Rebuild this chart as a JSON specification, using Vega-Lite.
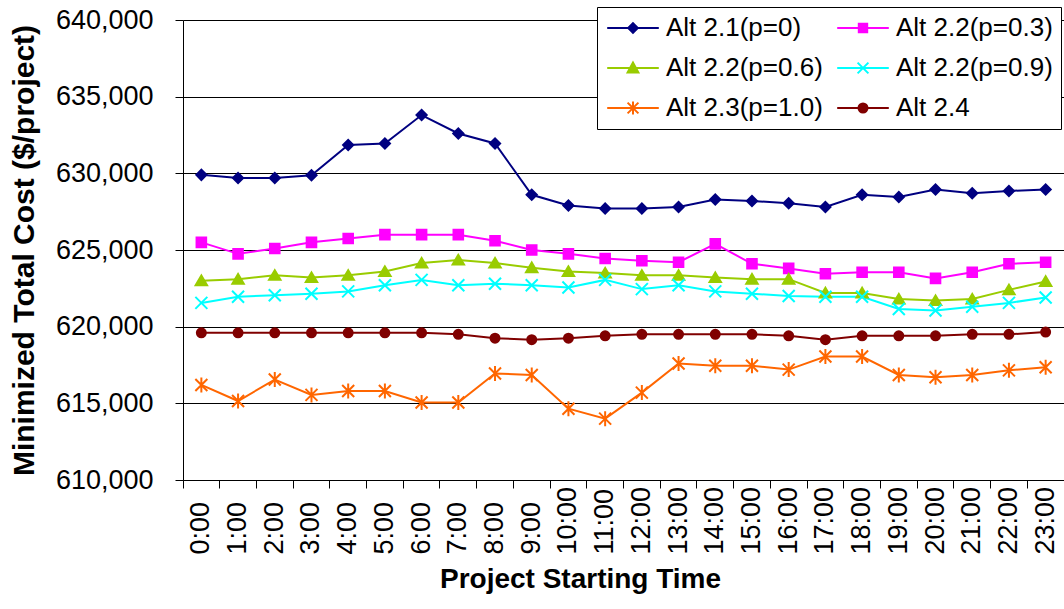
{
  "$schema": "https://vega.github.io/schema/vega-lite/v6.json",
  "width": 881,
  "height": 460,
  "autosize": {"type": "none"},
  "padding": {"left": 183, "top": 20, "right": 0, "bottom": 129},
  "background": "white",
  "config": {"view": {"stroke": null}, "font": "Liberation Sans"},
  "data": {"values": [
    {"hour":"0:00","series":"Alt 2.1(p=0)","cost":629900},
    {"hour":"1:00","series":"Alt 2.1(p=0)","cost":629700},
    {"hour":"2:00","series":"Alt 2.1(p=0)","cost":629700},
    {"hour":"3:00","series":"Alt 2.1(p=0)","cost":629870},
    {"hour":"4:00","series":"Alt 2.1(p=0)","cost":631850},
    {"hour":"5:00","series":"Alt 2.1(p=0)","cost":631950},
    {"hour":"6:00","series":"Alt 2.1(p=0)","cost":633800},
    {"hour":"7:00","series":"Alt 2.1(p=0)","cost":632600},
    {"hour":"8:00","series":"Alt 2.1(p=0)","cost":631950},
    {"hour":"9:00","series":"Alt 2.1(p=0)","cost":628600},
    {"hour":"10:00","series":"Alt 2.1(p=0)","cost":627900},
    {"hour":"11:00","series":"Alt 2.1(p=0)","cost":627700},
    {"hour":"12:00","series":"Alt 2.1(p=0)","cost":627700},
    {"hour":"13:00","series":"Alt 2.1(p=0)","cost":627800},
    {"hour":"14:00","series":"Alt 2.1(p=0)","cost":628300},
    {"hour":"15:00","series":"Alt 2.1(p=0)","cost":628200},
    {"hour":"16:00","series":"Alt 2.1(p=0)","cost":628050},
    {"hour":"17:00","series":"Alt 2.1(p=0)","cost":627800},
    {"hour":"18:00","series":"Alt 2.1(p=0)","cost":628600},
    {"hour":"19:00","series":"Alt 2.1(p=0)","cost":628450},
    {"hour":"20:00","series":"Alt 2.1(p=0)","cost":628950},
    {"hour":"21:00","series":"Alt 2.1(p=0)","cost":628700},
    {"hour":"22:00","series":"Alt 2.1(p=0)","cost":628850},
    {"hour":"23:00","series":"Alt 2.1(p=0)","cost":628950},
    {"hour":"0:00","series":"Alt 2.2(p=0.3)","cost":625500},
    {"hour":"1:00","series":"Alt 2.2(p=0.3)","cost":624750},
    {"hour":"2:00","series":"Alt 2.2(p=0.3)","cost":625100},
    {"hour":"3:00","series":"Alt 2.2(p=0.3)","cost":625500},
    {"hour":"4:00","series":"Alt 2.2(p=0.3)","cost":625750},
    {"hour":"5:00","series":"Alt 2.2(p=0.3)","cost":626000},
    {"hour":"6:00","series":"Alt 2.2(p=0.3)","cost":626000},
    {"hour":"7:00","series":"Alt 2.2(p=0.3)","cost":626000},
    {"hour":"8:00","series":"Alt 2.2(p=0.3)","cost":625600},
    {"hour":"9:00","series":"Alt 2.2(p=0.3)","cost":625000},
    {"hour":"10:00","series":"Alt 2.2(p=0.3)","cost":624750},
    {"hour":"11:00","series":"Alt 2.2(p=0.3)","cost":624450},
    {"hour":"12:00","series":"Alt 2.2(p=0.3)","cost":624300},
    {"hour":"13:00","series":"Alt 2.2(p=0.3)","cost":624200},
    {"hour":"14:00","series":"Alt 2.2(p=0.3)","cost":625400},
    {"hour":"15:00","series":"Alt 2.2(p=0.3)","cost":624100},
    {"hour":"16:00","series":"Alt 2.2(p=0.3)","cost":623800},
    {"hour":"17:00","series":"Alt 2.2(p=0.3)","cost":623450},
    {"hour":"18:00","series":"Alt 2.2(p=0.3)","cost":623550},
    {"hour":"19:00","series":"Alt 2.2(p=0.3)","cost":623550},
    {"hour":"20:00","series":"Alt 2.2(p=0.3)","cost":623150},
    {"hour":"21:00","series":"Alt 2.2(p=0.3)","cost":623550},
    {"hour":"22:00","series":"Alt 2.2(p=0.3)","cost":624100},
    {"hour":"23:00","series":"Alt 2.2(p=0.3)","cost":624200},
    {"hour":"0:00","series":"Alt 2.2(p=0.6)","cost":623000},
    {"hour":"1:00","series":"Alt 2.2(p=0.6)","cost":623100},
    {"hour":"2:00","series":"Alt 2.2(p=0.6)","cost":623350},
    {"hour":"3:00","series":"Alt 2.2(p=0.6)","cost":623200},
    {"hour":"4:00","series":"Alt 2.2(p=0.6)","cost":623350},
    {"hour":"5:00","series":"Alt 2.2(p=0.6)","cost":623600},
    {"hour":"6:00","series":"Alt 2.2(p=0.6)","cost":624150},
    {"hour":"7:00","series":"Alt 2.2(p=0.6)","cost":624350},
    {"hour":"8:00","series":"Alt 2.2(p=0.6)","cost":624150},
    {"hour":"9:00","series":"Alt 2.2(p=0.6)","cost":623850},
    {"hour":"10:00","series":"Alt 2.2(p=0.6)","cost":623600},
    {"hour":"11:00","series":"Alt 2.2(p=0.6)","cost":623500},
    {"hour":"12:00","series":"Alt 2.2(p=0.6)","cost":623350},
    {"hour":"13:00","series":"Alt 2.2(p=0.6)","cost":623350},
    {"hour":"14:00","series":"Alt 2.2(p=0.6)","cost":623200},
    {"hour":"15:00","series":"Alt 2.2(p=0.6)","cost":623100},
    {"hour":"16:00","series":"Alt 2.2(p=0.6)","cost":623100},
    {"hour":"17:00","series":"Alt 2.2(p=0.6)","cost":622200},
    {"hour":"18:00","series":"Alt 2.2(p=0.6)","cost":622200},
    {"hour":"19:00","series":"Alt 2.2(p=0.6)","cost":621800},
    {"hour":"20:00","series":"Alt 2.2(p=0.6)","cost":621700},
    {"hour":"21:00","series":"Alt 2.2(p=0.6)","cost":621800},
    {"hour":"22:00","series":"Alt 2.2(p=0.6)","cost":622400},
    {"hour":"23:00","series":"Alt 2.2(p=0.6)","cost":622950},
    {"hour":"0:00","series":"Alt 2.2(p=0.9)","cost":621550},
    {"hour":"1:00","series":"Alt 2.2(p=0.9)","cost":621950},
    {"hour":"2:00","series":"Alt 2.2(p=0.9)","cost":622050},
    {"hour":"3:00","series":"Alt 2.2(p=0.9)","cost":622150},
    {"hour":"4:00","series":"Alt 2.2(p=0.9)","cost":622300},
    {"hour":"5:00","series":"Alt 2.2(p=0.9)","cost":622700},
    {"hour":"6:00","series":"Alt 2.2(p=0.9)","cost":623050},
    {"hour":"7:00","series":"Alt 2.2(p=0.9)","cost":622700},
    {"hour":"8:00","series":"Alt 2.2(p=0.9)","cost":622800},
    {"hour":"9:00","series":"Alt 2.2(p=0.9)","cost":622700},
    {"hour":"10:00","series":"Alt 2.2(p=0.9)","cost":622550},
    {"hour":"11:00","series":"Alt 2.2(p=0.9)","cost":623050},
    {"hour":"12:00","series":"Alt 2.2(p=0.9)","cost":622450},
    {"hour":"13:00","series":"Alt 2.2(p=0.9)","cost":622700},
    {"hour":"14:00","series":"Alt 2.2(p=0.9)","cost":622300},
    {"hour":"15:00","series":"Alt 2.2(p=0.9)","cost":622150},
    {"hour":"16:00","series":"Alt 2.2(p=0.9)","cost":622000},
    {"hour":"17:00","series":"Alt 2.2(p=0.9)","cost":621950},
    {"hour":"18:00","series":"Alt 2.2(p=0.9)","cost":621950},
    {"hour":"19:00","series":"Alt 2.2(p=0.9)","cost":621150},
    {"hour":"20:00","series":"Alt 2.2(p=0.9)","cost":621050},
    {"hour":"21:00","series":"Alt 2.2(p=0.9)","cost":621300},
    {"hour":"22:00","series":"Alt 2.2(p=0.9)","cost":621550},
    {"hour":"23:00","series":"Alt 2.2(p=0.9)","cost":621900},
    {"hour":"0:00","series":"Alt 2.3(p=1.0)","cost":616200},
    {"hour":"1:00","series":"Alt 2.3(p=1.0)","cost":615150},
    {"hour":"2:00","series":"Alt 2.3(p=1.0)","cost":616550},
    {"hour":"3:00","series":"Alt 2.3(p=1.0)","cost":615550},
    {"hour":"4:00","series":"Alt 2.3(p=1.0)","cost":615800},
    {"hour":"5:00","series":"Alt 2.3(p=1.0)","cost":615800},
    {"hour":"6:00","series":"Alt 2.3(p=1.0)","cost":615050},
    {"hour":"7:00","series":"Alt 2.3(p=1.0)","cost":615050},
    {"hour":"8:00","series":"Alt 2.3(p=1.0)","cost":616950},
    {"hour":"9:00","series":"Alt 2.3(p=1.0)","cost":616850},
    {"hour":"10:00","series":"Alt 2.3(p=1.0)","cost":614650},
    {"hour":"11:00","series":"Alt 2.3(p=1.0)","cost":614000},
    {"hour":"12:00","series":"Alt 2.3(p=1.0)","cost":615700},
    {"hour":"13:00","series":"Alt 2.3(p=1.0)","cost":617600},
    {"hour":"14:00","series":"Alt 2.3(p=1.0)","cost":617450},
    {"hour":"15:00","series":"Alt 2.3(p=1.0)","cost":617450},
    {"hour":"16:00","series":"Alt 2.3(p=1.0)","cost":617200},
    {"hour":"17:00","series":"Alt 2.3(p=1.0)","cost":618050},
    {"hour":"18:00","series":"Alt 2.3(p=1.0)","cost":618050},
    {"hour":"19:00","series":"Alt 2.3(p=1.0)","cost":616850},
    {"hour":"20:00","series":"Alt 2.3(p=1.0)","cost":616700},
    {"hour":"21:00","series":"Alt 2.3(p=1.0)","cost":616850},
    {"hour":"22:00","series":"Alt 2.3(p=1.0)","cost":617150},
    {"hour":"23:00","series":"Alt 2.3(p=1.0)","cost":617350},
    {"hour":"0:00","series":"Alt 2.4","cost":619600},
    {"hour":"1:00","series":"Alt 2.4","cost":619600},
    {"hour":"2:00","series":"Alt 2.4","cost":619600},
    {"hour":"3:00","series":"Alt 2.4","cost":619600},
    {"hour":"4:00","series":"Alt 2.4","cost":619600},
    {"hour":"5:00","series":"Alt 2.4","cost":619600},
    {"hour":"6:00","series":"Alt 2.4","cost":619600},
    {"hour":"7:00","series":"Alt 2.4","cost":619500},
    {"hour":"8:00","series":"Alt 2.4","cost":619250},
    {"hour":"9:00","series":"Alt 2.4","cost":619150},
    {"hour":"10:00","series":"Alt 2.4","cost":619250},
    {"hour":"11:00","series":"Alt 2.4","cost":619400},
    {"hour":"12:00","series":"Alt 2.4","cost":619500},
    {"hour":"13:00","series":"Alt 2.4","cost":619500},
    {"hour":"14:00","series":"Alt 2.4","cost":619500},
    {"hour":"15:00","series":"Alt 2.4","cost":619500},
    {"hour":"16:00","series":"Alt 2.4","cost":619400},
    {"hour":"17:00","series":"Alt 2.4","cost":619150},
    {"hour":"18:00","series":"Alt 2.4","cost":619400},
    {"hour":"19:00","series":"Alt 2.4","cost":619400},
    {"hour":"20:00","series":"Alt 2.4","cost":619400},
    {"hour":"21:00","series":"Alt 2.4","cost":619500},
    {"hour":"22:00","series":"Alt 2.4","cost":619500},
    {"hour":"23:00","series":"Alt 2.4","cost":619650}
  ]},
  "encoding": {
    "x": {
      "field": "hour", "type": "ordinal", "sort": null, "bandPosition": 0.5,
      "scale": {"type": "band", "paddingInner": 0, "paddingOuter": 0},
      "axis": {
        "title": "Project Starting Time",
        "labelAngle": 270,
        "labelAlign": "left",
        "labelBaseline": "middle",
        "bandPosition": 0,
        "grid": false,
        "domainColor": "black", "domainWidth": 1,
        "tickColor": "black", "tickSize": 8, "tickWidth": 1,
        "labelFont": "Liberation Sans", "labelFontSize": 27, "labelColor": "black", "labelPadding": 66,
        "titleFont": "Liberation Sans", "titleFontSize": 28, "titleFontWeight": "bold", "titleColor": "black",
        "titlePadding": 11, "titleX": 397
      }
    },
    "y": {
      "field": "cost", "type": "quantitative",
      "scale": {"domain": [610000, 640000], "nice": false, "zero": false},
      "axis": {
        "title": "Minimized Total Cost ($/project)",
        "values": [610000, 615000, 620000, 625000, 630000, 635000, 640000],
        "format": ",d",
        "grid": true, "gridColor": "black", "gridWidth": 1, "gridOpacity": 1,
        "domainColor": "black", "domainWidth": 1,
        "tickColor": "black", "tickSize": 8, "tickWidth": 1,
        "labelFont": "Liberation Sans", "labelFontSize": 27, "labelColor": "black", "labelPadding": 22,
        "titleFont": "Liberation Sans", "titleFontSize": 30, "titleFontWeight": "bold", "titleColor": "black",
        "titlePadding": 16
      }
    }
  },
  "layer": [
    {
      "mark": {"type": "line", "strokeWidth": 2},
      "encoding": {
        "stroke": {
          "field": "series", "type": "nominal", "sort": null,
          "scale": {"domain": ["Alt 2.1(p=0)", "Alt 2.2(p=0.6)", "Alt 2.3(p=1.0)", "Alt 2.2(p=0.3)", "Alt 2.2(p=0.9)", "Alt 2.4"],
                    "range": ["#000080", "#99CC00", "#FF6600", "#FF00FF", "#00FFFF", "#800000"]}
        }
      }
    },
    {
      "mark": {"type": "point", "filled": true, "strokeWidth": 2, "opacity": 1, "size": 144},
      "encoding": {
        "fill": {
          "field": "series", "type": "nominal", "sort": null,
          "scale": {"domain": ["Alt 2.1(p=0)", "Alt 2.2(p=0.6)", "Alt 2.3(p=1.0)", "Alt 2.2(p=0.3)", "Alt 2.2(p=0.9)", "Alt 2.4"],
                    "range": ["#000080", "#99CC00", "#FF6600", "#FF00FF", "#00FFFF", "#800000"]},
          "legend": {
            "title": null, "orient": "none", "legendX": 414, "legendY": -13,
            "columns": 2, "symbolSize": 144, "symbolStrokeWidth": 2, "symbolOffset": 15,
            "labelOffset": 20, "labelFont": "Liberation Sans", "labelFontSize": 26, "labelColor": "black", "labelLimit": 300,
            "columnPadding": 10, "rowPadding": 14, "padding": 8,
            "strokeColor": "black", "fillColor": "white",
            "encoding": {"symbols": {"shape": {"value": {"expr": "datum.value === 'Alt 2.1(p=0)' ? 'M-4.3,0L4.3,0M-0.8,0L0,-0.8L0.8,0L0,0.8Z' : datum.value === 'Alt 2.2(p=0.3)' ? 'M-4.3,0L4.3,0M-0.7,-0.7L0.7,-0.7L0.7,0.7L-0.7,0.7Z' : datum.value === 'Alt 2.2(p=0.6)' ? 'M-4.3,0L4.3,0M0,-0.9L-0.9,0.75L0.9,0.75Z' : datum.value === 'Alt 2.2(p=0.9)' ? 'M-4.3,0L4.3,0M-0.9,-0.9L0.9,0.9M-0.9,0.9L0.9,-0.9' : datum.value === 'Alt 2.3(p=1.0)' ? 'M-4.3,0L4.3,0M-0.9,-0.9L0.9,0.9M-0.9,0.9L0.9,-0.9M0,-1.1L0,1.1' : 'M-4.3,0L4.3,0M0.75,0A0.75,0.75,0,1,1,-0.75,0A0.75,0.75,0,1,1,0.75,0Z'"}}}}
          }
        },
        "stroke": {
          "field": "series", "type": "nominal", "sort": null,
          "scale": {"domain": ["Alt 2.1(p=0)", "Alt 2.2(p=0.6)", "Alt 2.3(p=1.0)", "Alt 2.2(p=0.3)", "Alt 2.2(p=0.9)", "Alt 2.4"],
                    "range": ["#000080", "#99CC00", "#FF6600", "#FF00FF", "#00FFFF", "#800000"]}
        },
        "shape": {
          "field": "series", "type": "nominal", "sort": null,
          "scale": {"domain": ["Alt 2.1(p=0)", "Alt 2.2(p=0.3)", "Alt 2.2(p=0.6)", "Alt 2.2(p=0.9)", "Alt 2.3(p=1.0)", "Alt 2.4"],
                    "range": ["M-0.85,0L0,-0.85L0.85,0L0,0.85Z", "M-0.8,-0.8L0.8,-0.8L0.8,0.8L-0.8,0.8Z", "M0,-0.85L-0.95,0.75L0.95,0.75Z", "M-1,-1L1,1M-1,1L1,-1", "M-1,-1L1,1M-1,1L1,-1M0,-1.25L0,1.25", "M0.75,0A0.75,0.75,0,1,1,-0.75,0A0.75,0.75,0,1,1,0.75,0Z"]},
          "legend": null
        }
      }
    }
  ]
}
